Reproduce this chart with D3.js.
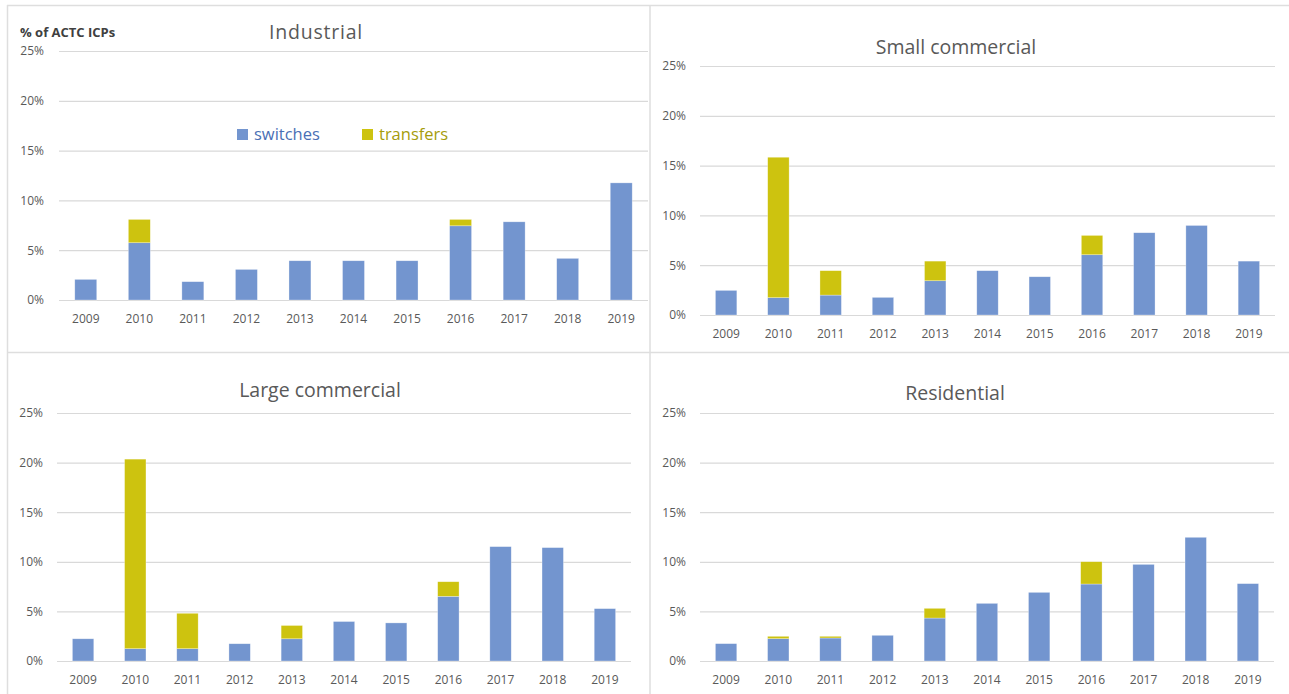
<!DOCTYPE html>
<html>
<head>
<meta charset="utf-8">
<script src="https://cdn.jsdelivr.net/npm/d3@7"></script>
<style>
  body { margin: 0; background: #fff; }
  svg { display: block; }
  text { font-family: "Open Sans", "Noto Sans", sans-serif; }
</style>
</head>
<body>
<svg id="chart" width="1289" height="694"></svg>
<script>
const years = ["2009", "2010", "2011", "2012", "2013", "2014", "2015", "2016", "2017", "2018", "2019"];
const yTicks = [0, 5, 10, 15, 20, 25];

const industrialSwitches = [2.07, 5.75, 1.84, 3.07, 3.94, 3.94, 3.94, 7.45, 7.85, 4.18, 11.76];
const industrialTransfers = [0, 2.34, 0, 0, 0, 0, 0, 0.64, 0, 0, 0];

const smallSwitches = [2.47, 1.74, 2.0, 1.77, 3.44, 4.45, 3.84, 6.05, 8.26, 8.99, 5.41];
const smallTransfers = [0, 14.1, 2.45, 0, 1.97, 0, 0, 1.94, 0, 0, 0];

const largeSwitches = [2.24, 1.24, 1.24, 1.74, 2.24, 3.98, 3.84, 6.52, 11.53, 11.43, 5.28];
const largeTransfers = [0, 19.11, 3.57, 0, 1.34, 0, 0, 1.47, 0, 0, 0];

const residentialSwitches = [1.75, 2.25, 2.32, 2.59, 4.33, 5.81, 6.92, 7.76, 9.74, 12.47, 7.80];
const residentialTransfers = [0, 0.24, 0.17, 0, 0.98, 0, 0, 2.25, 0, 0, 0];

const seriesNames = ["switches", "transfers"];
const blue = "#7395cf";
const olive = "#cdc30f";

const svg = d3.select("#chart");

// panel frames
const frame = svg.append("g").attr("fill", "none").attr("stroke", "#dedede").attr("stroke-width", 1.5);
frame.append("line").attr("x1", 7).attr("x2", 1289).attr("y1", 5.5).attr("y2", 5.5);
frame.append("line").attr("x1", 7).attr("x2", 1289).attr("y1", 352.5).attr("y2", 352.5);
frame.append("line").attr("x1", 7.5).attr("x2", 7.5).attr("y1", 5).attr("y2", 694);
frame.append("line").attr("x1", 650).attr("x2", 650).attr("y1", 5).attr("y2", 694);

function drawPanel(p) {
  const g = svg.append("g");
  const x = d3.scaleBand().domain(years).range([p.x0, p.x1]).paddingInner(0.59).paddingOuter(0.295);
  const y = d3.scaleLinear().domain([0, 25]).range([p.yBottom, p.yTop]);

  // gridlines
  g.append("g")
    .attr("transform", `translate(${p.x0},0)`)
    .call(d3.axisLeft(y).tickValues(yTicks).tickSize(-(p.x1 - p.x0)).tickFormat(""))
    .call(a => a.select(".domain").remove())
    .call(a => a.selectAll("line").attr("stroke", "#d9d9d9").attr("stroke-width", 1.2));

  // y labels
  g.append("g")
    .attr("transform", `translate(${p.labelX},0)`)
    .call(d3.axisLeft(y).tickValues(yTicks).tickSize(0).tickPadding(0).tickFormat(d => d + "%"))
    .call(a => a.select(".domain").remove())
    .call(a => a.selectAll("text").attr("fill", "#595959").style("font-size", "12px")
      .style("font-family", '"Open Sans", sans-serif'));

  // x labels
  g.append("g")
    .attr("transform", `translate(0,${p.yBottom})`)
    .call(d3.axisBottom(x).tickSize(0).tickPadding(14))
    .call(a => a.select(".domain").remove())
    .call(a => a.selectAll("text").attr("fill", "#595959").style("font-size", "12px")
      .style("font-family", '"Open Sans", sans-serif'));

  const rows = years.map((yr, i) => ({ year: yr, switches: p.switches[i], transfers: p.transfers[i] }));
  const stacked = d3.stack().keys(seriesNames)(rows);
  const colors = { switches: blue, transfers: olive };

  g.append("g").selectAll("g")
    .data(stacked)
    .join("g")
    .attr("fill", s => colors[s.key])
    .selectAll("rect")
    .data(s => s.filter(d => d[1] - d[0] > 0))
    .join("rect")
    .attr("x", d => x(d.data.year))
    .attr("width", x.bandwidth())
    .attr("y", d => y(d[1]))
    .attr("height", d => y(d[0]) - y(d[1]))
    .attr("stroke", "rgba(255,255,255,0.5)")
    .attr("stroke-width", 0.6);

  g.append("text")
    .attr("x", p.titleX).attr("y", p.titleY)
    .attr("text-anchor", "middle")
    .attr("fill", "#595959")
    .style("font-size", "19.5px")
    .style("letter-spacing", p.spacing || "0px")
    .text(p.title);
}

drawPanel({ title: "Industrial", titleX: 316, titleY: 39, x0: 59, x1: 648, yBottom: 300, yTop: 51, labelX: 44,
  spacing: "0.8px", switches: industrialSwitches, transfers: industrialTransfers });
drawPanel({ title: "Small commercial", titleX: 956, titleY: 54, x0: 700, x1: 1275, yBottom: 315, yTop: 66, labelX: 686,
  switches: smallSwitches, transfers: smallTransfers });
drawPanel({ title: "Large commercial", titleX: 320, titleY: 397, x0: 57, x1: 631, yBottom: 661, yTop: 413, labelX: 43,
  switches: largeSwitches, transfers: largeTransfers });
drawPanel({ title: "Residential", titleX: 955, titleY: 400, x0: 700, x1: 1274, yBottom: 661, yTop: 413, labelX: 686,
  switches: residentialSwitches, transfers: residentialTransfers });

// axis title
svg.append("text").attr("x", 20).attr("y", 37)
  .attr("fill", "#404040").style("font-size", "13px").style("font-weight", "bold")
  .text("% of ACTC ICPs");

// legend
const legend = svg.append("g");
const legendItems = [
  { name: seriesNames[0], color: blue, text: "#4a6fb5", x: 237 },
  { name: seriesNames[1], color: olive, text: "#a59c0b", x: 362 }
];
legendItems.forEach(it => {
  legend.append("rect").attr("x", it.x).attr("y", 129).attr("width", 11).attr("height", 11).attr("fill", it.color);
  legend.append("text").attr("x", it.x + 17).attr("y", 140)
    .attr("fill", it.text).style("font-size", "16.5px").text(it.name);
});
</script>
</body>
</html>
